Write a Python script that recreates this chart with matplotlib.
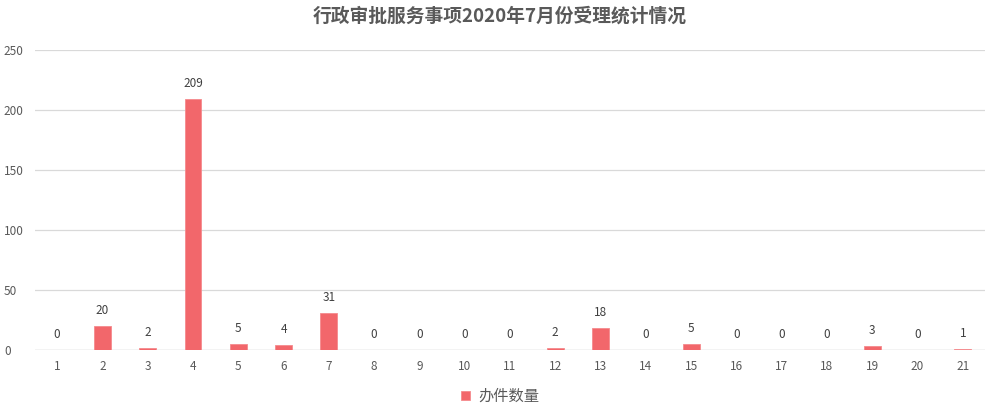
import matplotlib
matplotlib.use("Agg")
import matplotlib.pyplot as plt

plt.rcParams['font.family'] = ['Noto Sans CJK SC', 'DejaVu Sans']

categories = [str(i) for i in range(1, 22)]
values = [0, 20, 2, 209, 5, 4, 31, 0, 0, 0, 0, 2, 18, 0, 5, 0, 0, 0, 3, 0, 1]
series_name = "办件数量"
title = "行政审批服务事项2020年7月份受理统计情况"
yticks = [0, 50, 100, 150, 200, 250]

bar_color = "#F2676B"
text_color = "#595959"
grid_color = "#D9D9D9"

fig = plt.figure(figsize=(10, 4.18), dpi=100)
ax = fig.add_axes([0.0345, 0.1627, 0.951, 0.7177])

x = list(range(len(categories)))
bars = ax.bar(x, values, width=0.37, color=bar_color, edgecolor="#F58A8D",
              linewidth=0.6, label=series_name, zorder=3)

for xi, v in zip(x, values):
    ax.annotate(str(v), xy=(xi, v), xytext=(0, 6.5), textcoords="offset points",
                ha="center", va="bottom", fontsize=8.5, color="#404040")

ax.set_xlim(-0.5, len(categories) - 0.5)
ax.set_ylim(0, 250)
ax.set_yticks(yticks)
ax.set_xticks(x)
ax.set_xticklabels(categories)
ax.tick_params(axis='both', length=0, labelsize=8.5, colors=text_color)
ax.tick_params(axis='x', pad=7)
ax.tick_params(axis='y', pad=22)
for lab in ax.get_yticklabels():
    lab.set_horizontalalignment('left')

ax.grid(axis='y', color=grid_color, linewidth=0.9, zorder=0)
for s in ax.spines.values():
    s.set_visible(False)
ax.axhline(0, color=grid_color, linewidth=1.0, zorder=2)

fig.suptitle(title, x=0.5, y=0.985, fontsize=13.5, color=text_color, fontweight='semibold')

fig.legend(handles=[bars], labels=[series_name], loc='center', bbox_to_anchor=(0.5, 0.052),
           frameon=False, fontsize=11, handlelength=0.6, handleheight=0.6,
           handletextpad=0.5, labelcolor=text_color)

fig.savefig("out.png", dpi=100, facecolor="white")
